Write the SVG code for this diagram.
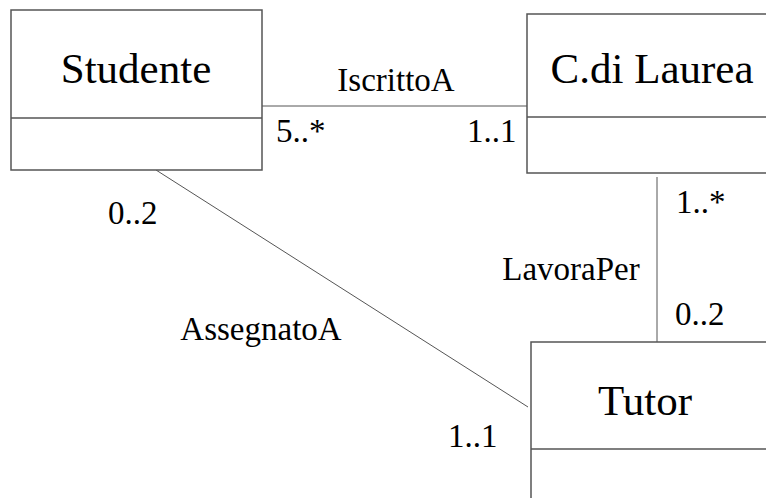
<svg xmlns="http://www.w3.org/2000/svg" width="766" height="498" viewBox="0 0 766 498">
<style>
.box{fill:#fff;stroke:#555;stroke-width:1.5}
.div{stroke:#555;stroke-width:1.5}
.conn{stroke:#555;stroke-width:1;fill:none}
.name{font-family:'Liberation Serif','Times New Roman','DejaVu Serif',serif;font-size:43px;fill:#000}
.lbl{font-family:'Liberation Serif','Times New Roman','DejaVu Serif',serif;font-size:33px;fill:#000}
</style>
<rect width="766" height="498" fill="#fff"/>
<g id="connectors">
<line class="conn" x1="262" y1="106" x2="527" y2="106"/>
<line class="conn" x1="657" y1="177" x2="657" y2="342"/>
<line class="conn" x1="156" y1="170" x2="528" y2="407"/>
</g>
<g id="studente">
<rect class="box" x="11" y="10" width="251" height="160"/>
<line class="div" x1="11" y1="118" x2="262" y2="118"/>
<text class="name" x="136" y="83" text-anchor="middle" font-family="Liberation Serif, serif">Studente</text>
</g>
<g id="cdilaurea">
<rect class="box" x="527" y="14" width="260" height="159"/>
<line class="div" x1="527" y1="117" x2="787" y2="117"/>
<text class="name" x="652" y="83" text-anchor="middle">C.di Laurea</text>
</g>
<g id="tutor">
<rect class="box" x="531" y="342" width="260" height="180"/>
<line class="div" x1="531" y1="449" x2="791" y2="449"/>
<text class="name" x="645" y="415" text-anchor="middle">Tutor</text>
</g>
<g id="labels">
<text class="lbl" x="396" y="91" text-anchor="middle">IscrittoA</text>
<text class="lbl" x="276" y="142">5..*</text>
<text class="lbl" x="467" y="142">1..1</text>
<text class="lbl" x="108" y="224">0..2</text>
<text class="lbl" x="261" y="340" text-anchor="middle">AssegnatoA</text>
<text class="lbl" x="448" y="447">1..1</text>
<text class="lbl" x="571" y="280" text-anchor="middle">LavoraPer</text>
<text class="lbl" x="676" y="213">1..*</text>
<text class="lbl" x="675" y="325">0..2</text>
</g>
</svg>
